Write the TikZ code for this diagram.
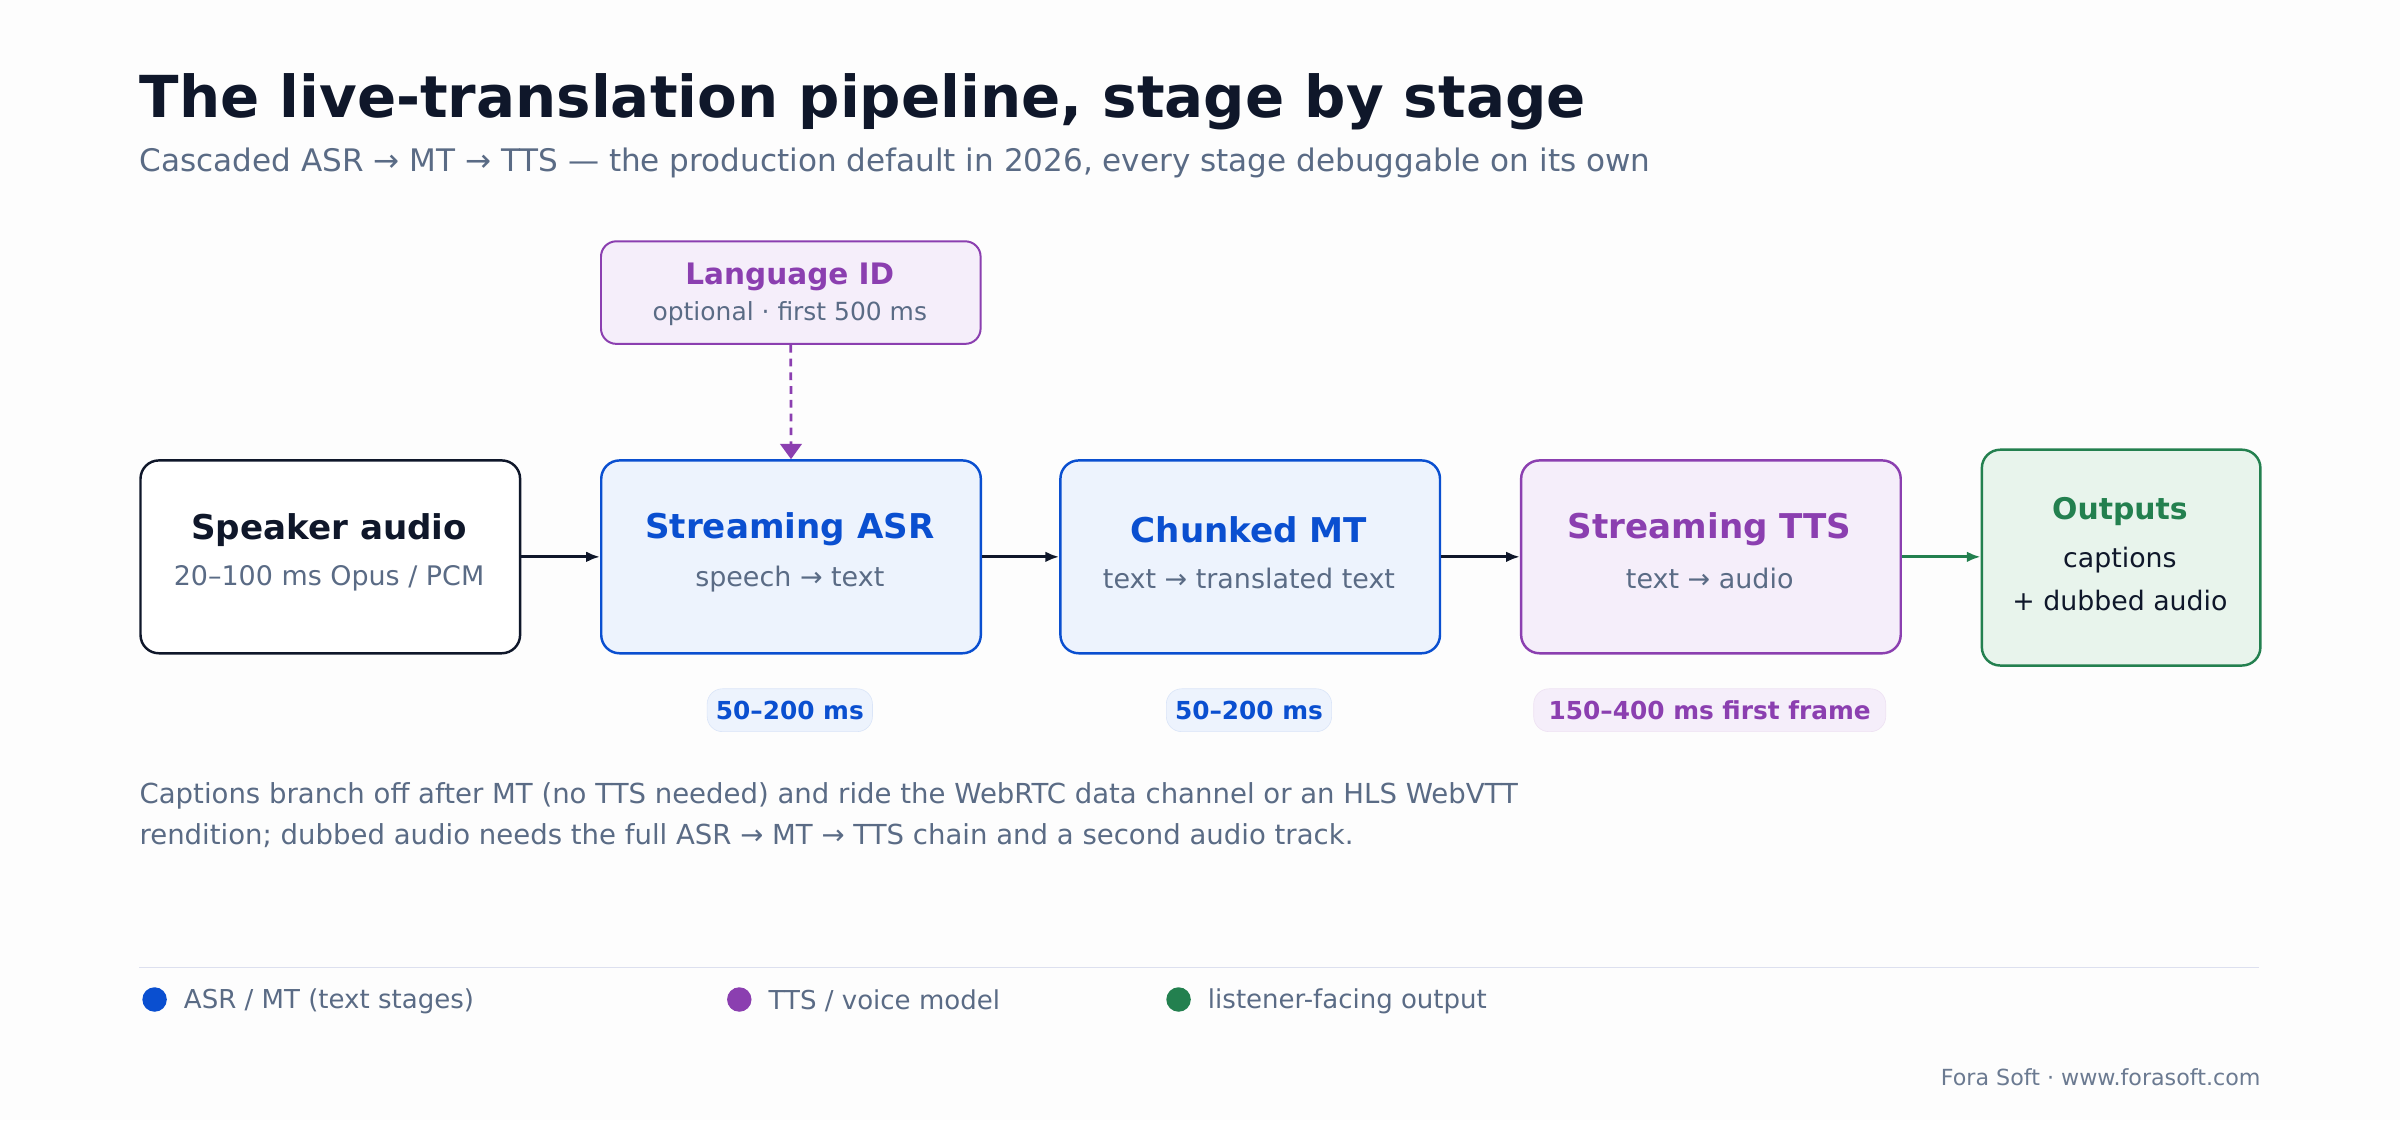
\documentclass[tikz,border=0pt]{standalone}
\usepackage{fontspec}
\setmainfont{DejaVu Sans}
\usetikzlibrary{arrows.meta}
\definecolor{ink}{HTML}{0F172A}
\definecolor{blu}{HTML}{0A4FD0}
\definecolor{blf}{HTML}{EDF3FD}
\definecolor{pur}{HTML}{8B3FB0}
\definecolor{puf}{HTML}{F5EEFA}
\definecolor{grn}{HTML}{23804F}
\definecolor{grf}{HTML}{E8F4EC}
\definecolor{gry}{HTML}{5A6B85}
\definecolor{bg}{HTML}{FDFDFD}
\definecolor{rule}{HTML}{DDE0EF}
\begin{document}
\begin{tikzpicture}[x=1pt,y=-1pt,
  box/.style={draw, line width=1.6pt, rounded corners=12pt, minimum width=248pt, minimum height=126pt, anchor=north west, inner sep=0pt},
  ttl/.style={font=\fontsize{22.3}{24}\selectfont\bfseries, inner sep=0pt},
  sub/.style={font=\fontsize{17.6}{19}\selectfont, text=gry, inner sep=0pt},
  pill/.style={rounded corners=10pt, minimum height=28pt, inner sep=0pt, font=\fontsize{16.2}{16}\selectfont\bfseries},
  arr/.style={line width=1.8pt, -{Latex[length=9pt,width=7pt]}},
  leg/.style={font=\fontsize{17}{19}\selectfont, text=gry, anchor=west, inner sep=0pt}]
\fill[bg] (0,0) rectangle (1568,732);
\useasboundingbox (0,0) rectangle (1568,732);
\node[anchor=base west, inner sep=0pt, text=ink, font=\fontsize{37.8}{40}\selectfont\bfseries] (title) at (91,77) {The live-translation pipeline, stage by stage};
\node[anchor=base west, inner sep=0pt, text=gry, font=\fontsize{20.3}{22}\selectfont] (subt) at (91,112) {Cascaded ASR → MT → TTS — the production default in 2026, every stage debuggable on its own};
% boxes
\node[box, draw=ink, fill=white] (sa) at (91,300) {};
\node[ttl, text=ink] at (215,346) {Speaker audio};
\node[sub] at (215,378) {20–100 ms Opus / PCM};
\node[box, draw=blu, fill=blf] (asr) at (392,300) {};
\node[ttl, text=blu] at (516,346) {Streaming ASR};
\node[sub] at (516,378) {speech → text};
\node[box, draw=blu, fill=blf] (mt) at (692,300) {};
\node[ttl, text=blu] at (816,346) {Chunked MT};
\node[sub] at (816,378) {text → translated text};
\node[box, draw=pur, fill=puf] (tts) at (993,300) {};
\node[ttl, text=pur] at (1117,346) {Streaming TTS};
\node[sub] at (1117,378) {text → audio};
\node[box, draw=grn, fill=grf, minimum width=182pt, minimum height=141pt] (out) at (1294,293) {};
\node[font=\fontsize{19.5}{22}\selectfont\bfseries, text=grn, inner sep=0pt] at (1385,334) {Outputs};
\node[font=\fontsize{17.5}{19}\selectfont, text=ink, inner sep=0pt] at (1385,366) {captions};
\node[font=\fontsize{17.5}{19}\selectfont, text=ink, inner sep=0pt] at (1385,392) {+ dubbed audio};
\node[draw=pur, fill=puf, line width=1.3pt, rounded corners=10pt, minimum width=248pt, minimum height=67pt, anchor=north west] (lid) at (392,157) {};
\node[font=\fontsize{19.3}{21}\selectfont\bfseries, text=pur, inner sep=0pt] at (516,181) {Language ID};
\node[font=\fontsize{16.3}{17}\selectfont, text=gry, inner sep=0pt] at (516,205) {optional · first 500 ms};
% connectors
\draw[arr, ink] (sa.east) -- (asr.west);
\draw[arr, ink] (asr.east) -- (mt.west);
\draw[arr, ink] (mt.east) -- (tts.west);
\draw[arr, grn] (tts.east) -- (tts.east -| out.west);
\draw[pur, line width=1.8pt, dash pattern=on 5pt off 4pt, -{Triangle[length=10pt,width=14pt]}] (lid.south) -- (asr.north);
% pills
\node[pill, fill=blf, draw=blu!15, minimum width=108pt, text=blu] (p1) at (516,464) {50–200 ms};
\node[pill, fill=blf, draw=blu!15, minimum width=108pt, text=blu] (p2) at (816,464) {50–200 ms};
\node[pill, fill=puf, draw=pur!15, minimum width=230pt, text=pur] (p3) at (1117,464) {150–400 ms first frame};
% note
\node[anchor=base west, inner sep=0pt, text=gry, font=\fontsize{18}{19}\selectfont] (n1) at (91,525) {Captions branch off after MT (no TTS needed) and ride the WebRTC data channel or an HLS WebVTT};
\node[anchor=base west, inner sep=0pt, text=gry, font=\fontsize{18}{19}\selectfont] (n2) at (91,552) {rendition; dubbed audio needs the full ASR → MT → TTS chain and a second audio track.};
% legend
\draw[rule, line width=1pt] (91,632) -- (1476,632);
\fill[blu] (101,653) circle (8);
\node[leg] at (120,654) {ASR / MT (text stages)};
\fill[pur] (483,653) circle (8);
\node[leg] at (502,654) {TTS / voice model};
\fill[grn] (770,653) circle (8);
\node[leg] at (789,654) {listener-facing output};
\node[anchor=base east, inner sep=0pt, text=gry!90, font=\fontsize{14.5}{15}\selectfont] (ft) at (1477,709) {Fora Soft · www.forasoft.com};
\end{tikzpicture}
\end{document}
